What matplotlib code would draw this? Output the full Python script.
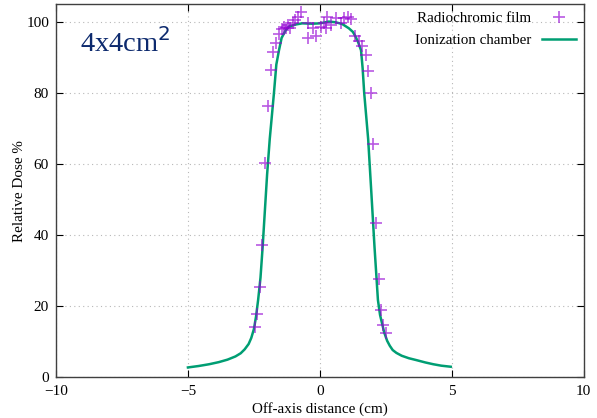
import matplotlib
matplotlib.use("Agg")
import matplotlib.pyplot as plt

plt.rcParams['font.family'] = ['Liberation Serif', 'DejaVu Serif']

# Ionization chamber profile (off-axis cm, relative dose %)
chamber_x = [-5.0, -4.6, -4.2, -3.83, -3.5, -3.2, -3.0, -2.85, -2.7, -2.6, -2.5,
             -2.42, -2.34, -2.25, -2.17, -2.0, -1.9, -1.74, -1.65, -1.55, -1.45,
             -1.3, -1.17, -0.9, -0.67, -0.3, 0.0, 0.34, 0.6, 0.85, 1.1, 1.25,
             1.35, 1.45, 1.56, 1.62, 1.68, 1.83, 1.95, 2.07, 2.2, 2.28, 2.36,
             2.44, 2.55, 2.65, 2.76, 2.9, 3.1, 3.37, 3.64, 4.0, 4.3, 4.6, 4.96]
chamber_y = [2.7, 3.1, 3.6, 4.2, 4.9, 5.8, 6.7, 7.8, 9.3, 11.0, 13.5,
             17.0, 21.7, 28.0, 36.5, 57.0, 67.0, 80.0, 88.0, 92.0, 95.5,
             97.6, 98.7, 99.3, 99.6, 99.5, 99.6, 100.1, 99.9, 99.4, 98.2, 97.2,
             95.9, 94.3, 92.0, 87.0, 80.0, 67.0, 52.0, 36.7, 21.7, 17.5, 15.0,
             12.5, 10.2, 8.8, 7.6, 6.8, 6.0, 5.3, 4.8, 4.1, 3.6, 3.2, 2.9]

# Radiochromic film measurements
film_x = [-2.47, -2.37, -2.28, -2.18, -2.08, -1.98, -1.85, -1.76, -1.68, -1.55,
          -1.43, -1.35, -1.28, -1.2, -1.15, -1.03, -0.93, -0.81, -0.71, -0.46,
          -0.46, -0.27, -0.14, 0.05, 0.17, 0.23, 0.28, 0.42, 0.61, 0.8, 0.93,
          1.05, 1.18, 1.35, 1.48, 1.6, 1.73, 1.83, 1.92, 2.02, 2.11, 2.23,
          2.32, 2.40, 2.51]
film_y = [14.2, 17.7, 25.3, 37.2, 60.2, 76.3, 86.5, 91.6, 94.0, 96.5,
          98.0, 98.6, 98.4, 99.2, 98.4, 99.6, 100.6, 101.5, 102.9, 99.6,
          95.4, 98.2, 96.1, 98.7, 99.6, 98.4, 101.3, 99.2, 101.2, 99.6, 101.0,
          101.5, 100.8, 95.9, 94.5, 93.1, 90.7, 86.3, 79.9, 65.6, 43.3, 27.5,
          18.9, 14.6, 12.3]

x_ticks = [-10, -5, 0, 5, 10]
y_ticks = [0, 20, 40, 60, 80, 100]

fig = plt.figure(figsize=(5.97, 4.18), dpi=100)
ax = fig.add_axes([0.0938, 0.098, 0.884, 0.892])

ax.plot(film_x, film_y, '+', color='#9400d3', alpha=0.65, markersize=9,
        markeredgewidth=1.2, linestyle='none', label='Radiochromic film', zorder=3)
ax.plot(chamber_x, chamber_y, color='#009e73', linewidth=1.8,
        label='Ionization chamber', zorder=2)

ax.set_xlim(-10, 10)
ax.set_ylim(0, 105)
ax.set_xticks(x_ticks)
ax.set_yticks(y_ticks)
ax.tick_params(direction='in', top=True, right=True, length=5, labelsize=11,
               width=0.8)
ax.tick_params(axis='x', pad=6)
ax.tick_params(axis='y', pad=5)
ax.grid(True, linestyle=(0, (1, 3)), color='#b8b8b8', linewidth=0.8)
for s in ax.spines.values():
    s.set_linewidth(1.0)
    s.set_color('#404040')

ax.set_xlabel('Off-axis distance (cm)', fontsize=10.9, labelpad=3)
ax.set_ylabel('Relative Dose %', fontsize=10.9, labelpad=0)

ax.text(0.045, 0.895, '4x4cm$^2$', transform=ax.transAxes, fontsize=20.5,
        color='#0d2a6e', ha='left', va='center')

leg = ax.legend(loc='upper right', frameon=False, markerfirst=False,
                fontsize=10.8, handlelength=2.3, borderaxespad=0.1,
                labelspacing=0.55, handletextpad=0.7)
for t in leg.get_texts():
    t.set_ha('right')

fig.savefig('out.png', dpi=100)
